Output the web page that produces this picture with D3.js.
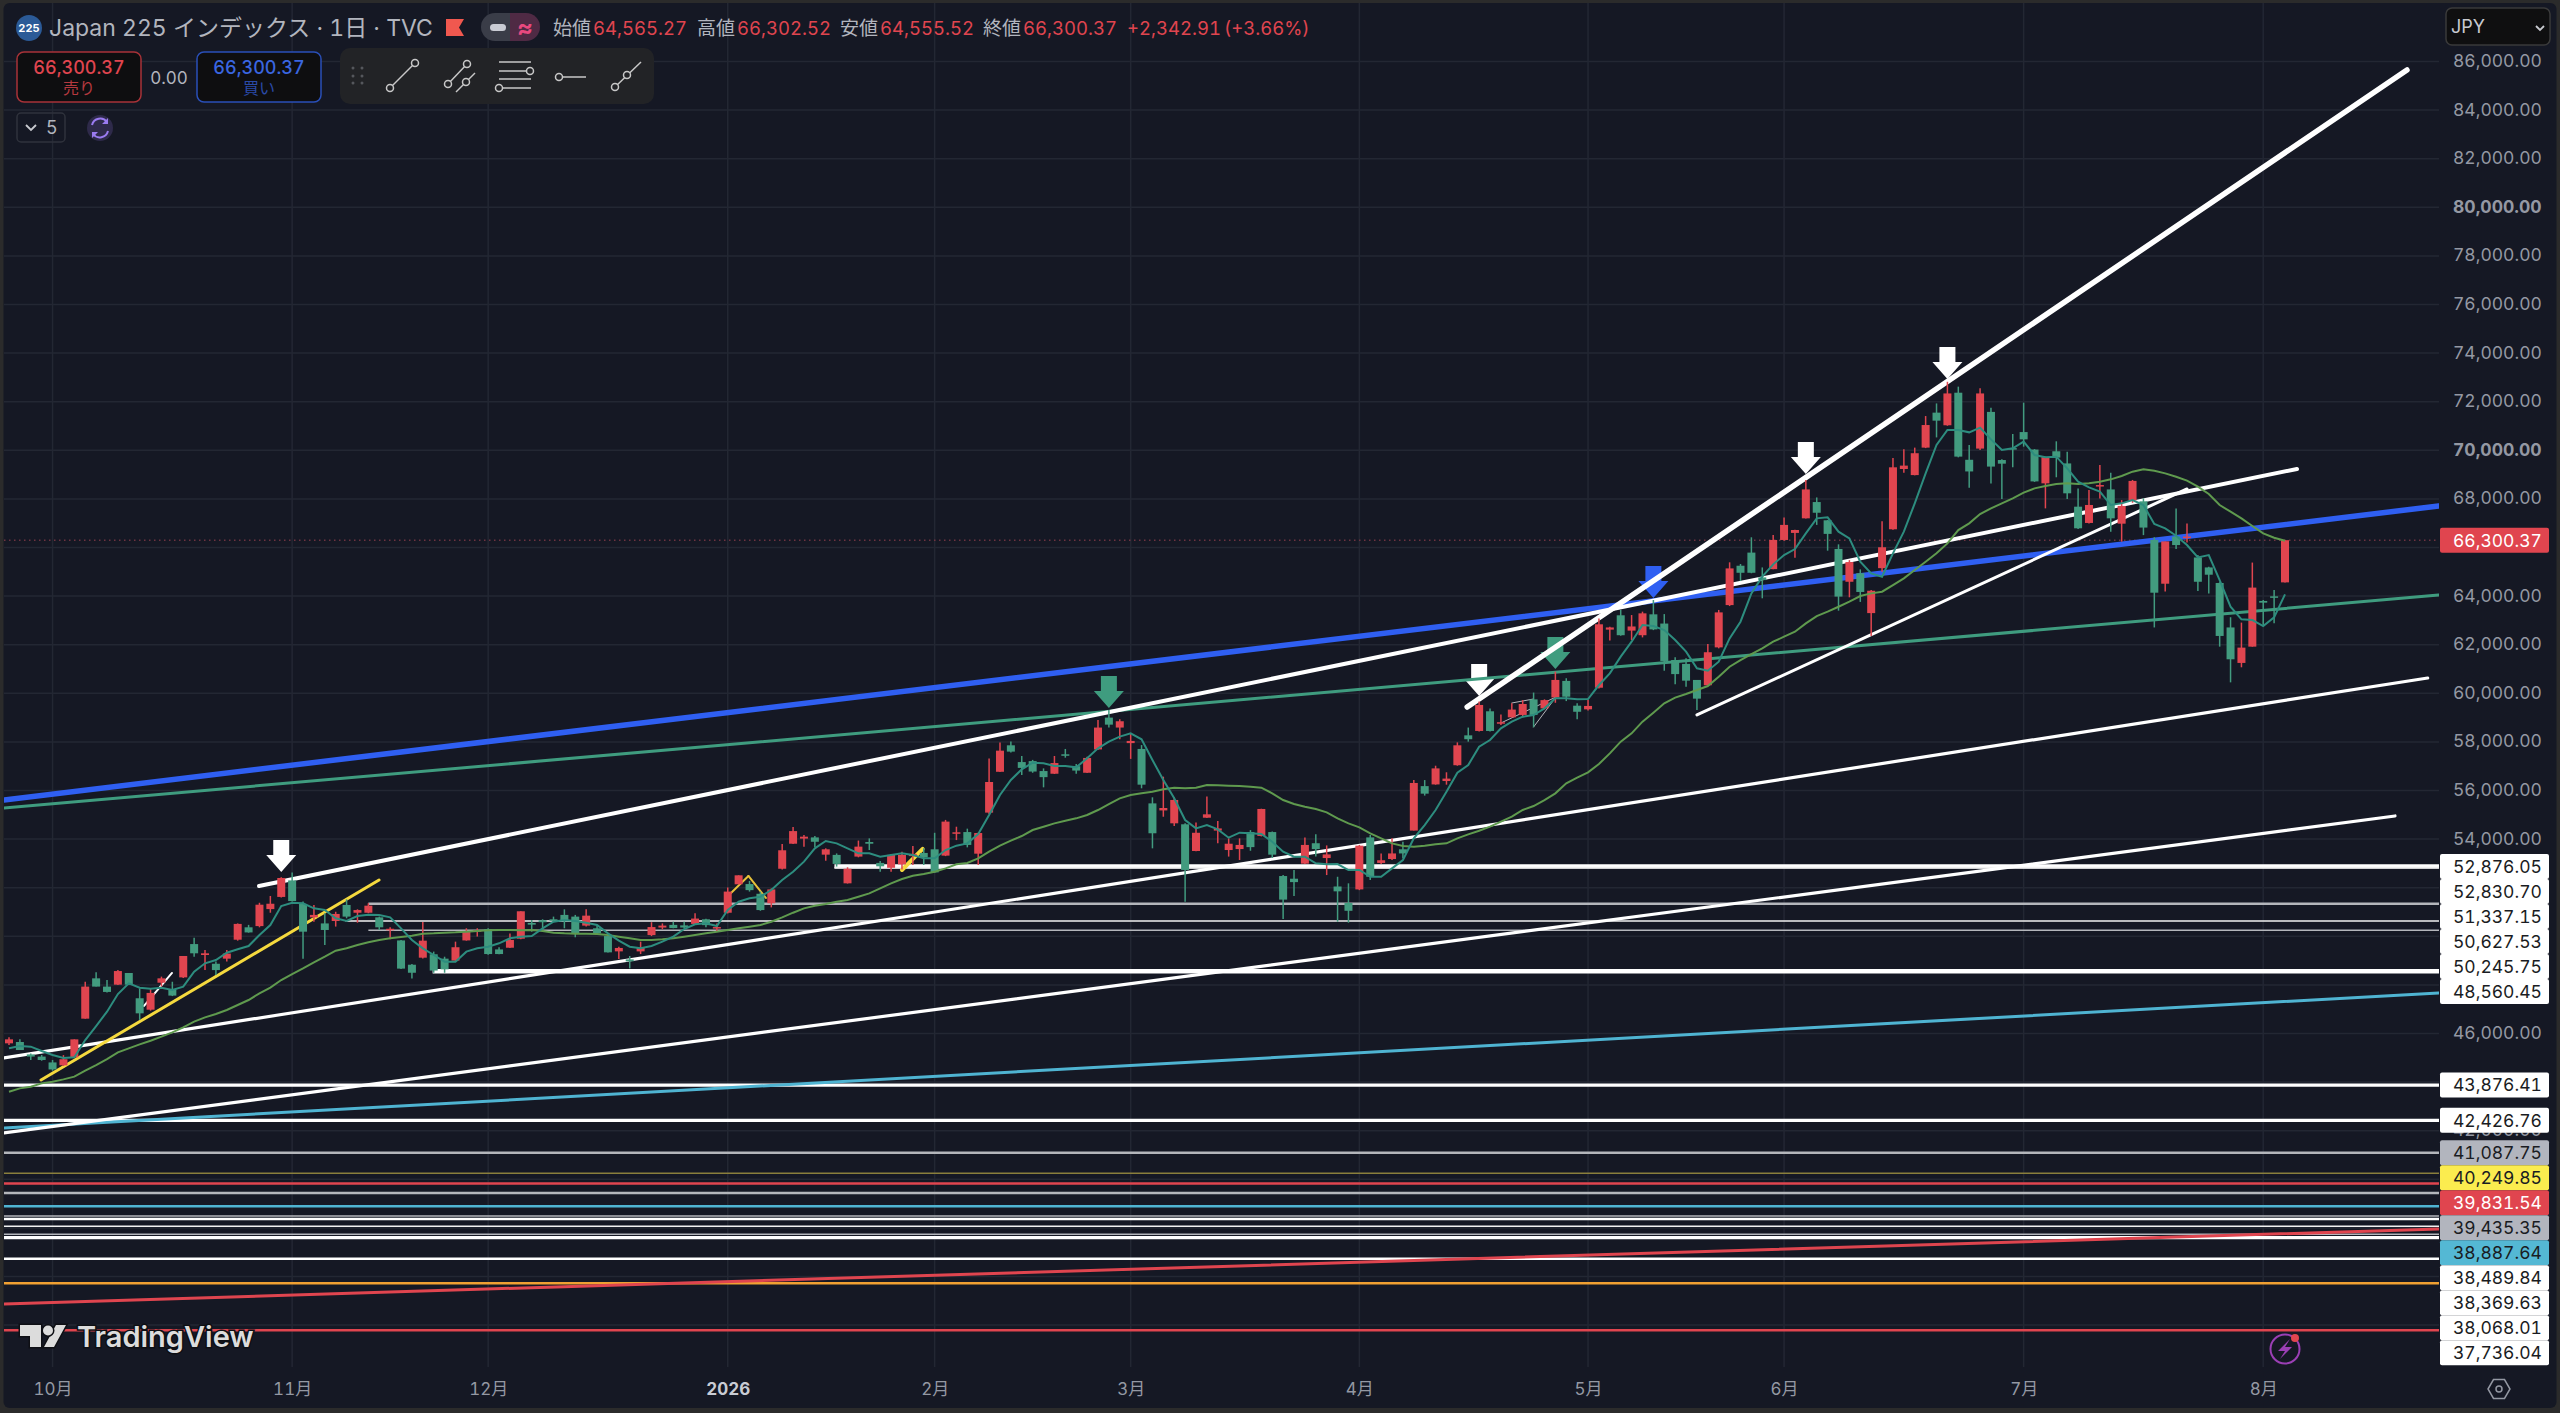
<!DOCTYPE html>
<html>
<head>
<meta charset="utf-8">
<title>Japan 225</title>
<script src="https://cdn.jsdelivr.net/npm/d3@7.9.0/dist/d3.min.js"></script>
<style>
    html, body { margin: 0; padding: 0; background: #2b2b2b; overflow: hidden; }
    svg { display: block; font-family: Inter, "Noto Sans CJK JP", sans-serif; font-variant-numeric: tabular-nums; }
</style>
</head>
<body>
<script>
// daily candles
var opens = [
    45595,45650,45140,45050,44810,44690,45020,46610,48270,47930,
    48010,48490,47450,46980,48090,47820,48310,49680,49230,48870,
    49080,49860,50370,50420,51120,51620,52300,51330,50780,50530,
    50630,51290,50970,50970,50780,50250,49830,48830,49120,49260,
    49080,49000,49830,50200,50300,49460,49530,49900,50550,50660,
    50700,50880,50810,50440,50330,50010,49380,49050,49380,50050,
    50360,50470,50450,50510,50700,50330,50970,52140,52150,51750,
    51360,52780,53810,54020,54070,53360,53350,52180,53280,53880,
    53020,52820,52960,53300,53430,53580,53320,54220,54290,53400,
    55090,56770,57860,57170,57210,56800,56690,57490,57000,56730,
    57690,59000,58590,57950,57710,55470,55180,54650,54610,53510,
    54880,54350,53550,53590,54290,54130,54290,52480,52370,52990,
    53830,53220,52050,51370,51930,54070,53020,53180,53580,54350,
    56180,56250,56390,57040,58270,58450,59260,58760,59010,59110,
    59750,59380,59830,60510,59490,59340,60230,62620,63210,62580,
    62390,63250,62870,61370,61210,60550,60330,61890,63630,65250,
    65790,64770,65110,66310,66600,67200,67870,67120,65940,64590,
    64940,63300,65150,66750,69230,68980,70110,71550,71030,72370,
    69610,70070,71580,69600,70090,70750,70030,68640,69960,69460,
    67680,67010,68530,68390,66980,67940,67900,66310,64510,66450,
    66420,65590,65180,64540,62710,61250,61920,63800,63990,64565.27
]
var highs = [
    45842,45760,45180,45115,44910,45110,45759,48130,48520,48200,
    48610,48490,47860,47860,48340,48130,49190,49940,49440,48960,
    49440,50530,50470,51380,51660,52430,52630,51430,51290,50950,
    51010,51520,51110,51360,50810,50370,49850,48860,50590,49370,
    49160,49780,50330,50330,50330,49550,50120,51030,50670,50700,
    50810,51110,50880,51110,50420,50050,49570,49190,49780,50580,
    50530,50600,50600,50950,50720,50530,52010,52510,52280,51840,
    51970,53800,54500,54170,54130,53620,53410,52840,53940,54030,
    53100,53390,53480,53720,53620,54260,54790,54510,54430,54260,
    57320,57980,58020,57420,57260,56910,57420,57710,57090,57390,
    58900,59310,58930,58350,57870,55720,56570,55720,54650,54680,
    55750,54740,54030,54030,54370,55250,54310,52520,52730,54070,
    54200,53740,52450,52180,53760,54170,53410,54030,53890,56430,
    56430,57020,56750,57980,58590,59660,59370,59130,59590,59720,
    60030,59750,60890,60620,59590,59720,63080,62740,63430,63220,
    63360,63840,63260,61480,61440,60550,62030,63430,65390,65320,
    66420,65180,66510,67230,66730,68780,68060,67130,66130,65480,
    65100,64250,67080,69680,70040,70110,71410,71930,72820,72620,
    70220,72550,71750,69630,70670,71960,70050,69740,70370,69940,
    68430,68370,69390,69080,67950,68780,68020,66420,66250,67610,
    66990,65690,65210,64570,63130,62910,65380,63840,64250,66302.52
]
var lows = [
    45526,45320,44910,44880,44470,44660,45018,46610,47930,47690,
    48000,48010,46560,46940,47930,47540,48280,49160,48610,48410,
    48960,49820,50150,50370,50970,51600,51430,49080,50600,49640,
    50400,50740,50560,50950,50260,49880,48650,48260,49090,48500,
    48500,48960,49820,49990,49240,49260,49520,49880,50190,50190,
    50600,50330,49960,50400,50050,49330,49070,48680,49270,50010,
    50290,50330,50330,50470,50370,50190,50940,52140,51840,51050,
    51190,52750,53800,53690,53660,53110,52870,52170,53250,53550,
    52660,52660,52750,52930,52930,52620,53300,53960,53660,52930,
    55030,56760,57560,56640,56730,56130,56680,57350,56690,56720,
    57680,58590,58110,57300,56090,53620,54920,54540,51420,53500,
    54870,53830,53280,53140,53520,54110,53220,50710,51660,52980,
    53280,52520,50600,50560,51900,52320,52980,53140,53210,54350,
    55790,56240,56240,57020,58010,58430,58430,58700,59000,59010,
    58600,59340,59610,59680,58930,59290,60200,62170,62370,62190,
    62300,62600,60930,60370,60270,59310,60310,61850,63590,64620,
    64940,63910,65100,66280,65580,67190,66930,65870,63400,63950,
    63760,62360,65000,66730,69080,68970,70090,70530,71010,69710,
    68460,70010,68630,68000,69300,70150,68700,67610,68890,68000,
    66760,66990,68020,66650,66240,67840,66510,62710,64190,65940,
    66210,64210,64110,61920,60450,61070,61920,62810,62880,64555.52
]
var closes = [
    45759,45320,45050,44910,44520,44940,45759,47930,47930,47710,
    48570,48010,46830,47670,48270,47560,49190,49300,49300,48610,
    49290,50510,50160,51300,51340,52400,51450,50190,50880,50260,
    50920,50810,51080,51260,50370,50310,48670,48500,49820,48590,
    48640,49550,50180,50250,49270,49270,49850,51030,50480,50580,
    50660,50620,50120,50850,50120,49340,49520,48970,49530,50380,
    50440,50340,50360,50730,50460,50380,51840,52510,51900,51080,
    51930,53540,54330,54100,53890,53580,52980,52780,53690,53810,
    52880,53350,53350,53390,53250,52630,54720,54280,53760,54250,
    56350,57640,57600,56930,56780,56550,57130,57450,56820,57340,
    58590,58710,58850,58040,56240,54240,55280,55610,52730,54260,
    55020,54440,53810,53760,53670,55240,53360,51510,52230,53760,
    53590,53370,51850,51050,53730,52450,53130,53410,53410,56310,
    55870,56910,56490,57860,58110,59520,58450,58810,59330,59560,
    59110,59720,60550,59860,59240,59480,62840,62710,62390,62750,
    63290,62630,61330,60790,60520,59780,61690,63330,65140,64960,
    64960,64660,66310,66930,66720,68390,67430,66560,63980,65400,
    64170,64220,66010,69300,69370,69880,71040,71220,72340,69740,
    69130,72340,69330,69450,70040,70450,68720,69720,69700,68230,
    66790,67750,68570,67200,67710,68740,66820,64140,66250,66100,
    66450,64590,64880,62360,61400,61880,64350,63730,63960,66300.37
]
var maFast = [
    45389,45485,45458,45279,45114,44991,45018,45732,46308,46898,
    47625,48064,47886,47845,47886,47790,47927,48544,48888,49025,
    49326,49464,49601,50054,50465,51247,51384,51357,51151,51083,
    50740,50630,50836,50890,50877,50781,50328,49848,49505,49230,
    48956,48956,49368,49505,49573,49711,49916,49985,50013,50328,
    50602,50671,50630,50561,50465,50122,49820,49573,49505,49601,
    49779,49985,50300,50493,50532,50423,51081,51424,51562,51630,
    51904,52316,52659,53071,53619,53921,53825,53619,53414,53414,
    53276,53345,53414,53345,53208,53208,53551,53729,53825,54209,
    54991,55815,56432,56871,57145,57118,57008,57008,56953,57324,
    57735,58010,58216,58353,58106,57255,56432,55677,54786,54443,
    54580,54401,54058,54264,54237,54209,53894,53482,53276,53276,
    53002,52961,52975,52728,52728,52453,52453,52796,53139,54030,
    54579,55197,55951,56733,57049,57803,58078,58558,58832,59038,
    59107,59381,59793,59793,59752,59765,60341,60821,61507,62124,
    62810,62769,62604,62193,61713,61027,60930,61300,62260,62946,
    64113,64798,65306,65690,65937,66582,67199,67240,66650,66376,
    65416,64935,64798,65759,66650,67817,69051,70218,70835,70835,
    70739,70931,70451,70012,70080,70355,69806,69710,69737,69257,
    68708,68475,68297,67748,67817,67954,67748,66966,66788,66486,
    66102,65594,65690,64661,63564,63043,63015,62768,63125,64071
]
var maSlow = [
    43605,43742,43811,43948,44017,44113,44223,44470,44703,44950,
    45224,45389,45553,45704,45869,46047,46253,46487,46665,46802,
    46967,47172,47378,47653,47886,48201,48448,48682,48929,49162,
    49409,49505,49642,49752,49848,49916,49971,50026,50109,50122,
    50150,50163,50191,50218,50246,50259,50259,50246,50259,50218,
    50150,50122,50109,50109,50095,50054,49985,49916,49848,49848,
    49875,49916,49985,50054,50121,50189,50258,50327,50395,50464,
    50601,50780,50971,51150,51260,51328,51424,51493,51630,51767,
    51973,52179,52357,52494,52563,52659,52796,52961,53016,53208,
    53482,53729,53935,54127,54374,54511,54648,54758,54854,54991,
    55197,55444,55677,55815,55883,55952,56048,56116,56089,56116,
    56226,56212,56199,56185,56158,56116,55883,55609,55444,55334,
    55238,55101,54854,54648,54484,54237,54031,53825,53715,53687,
    53729,53784,53825,54031,54195,54346,54511,54716,54922,55197,
    55361,55608,55883,56294,56527,56747,57090,57529,58009,58352,
    58832,59203,59587,59820,59971,60136,60300,60685,61094,61369,
    61615,61848,62123,62329,62535,62877,63179,63358,63563,63769,
    64002,64112,64181,64455,64729,65073,65416,65759,66170,66719,
    66993,67378,67611,67817,68022,68256,68434,68530,68612,68640,
    68612,68640,68708,68805,68942,69120,69216,69161,69051,68914,
    68750,68503,68201,67748,67474,67199,66884,66582,66404,66280
]

var lastPrice = 66300.37
var priceTicks = [86000,84000,82000,80000,78000,76000,74000,72000,70000,68000,66000,64000,62000,60000,58000,56000,54000,52000,50000,48000,46000,44000,42000,40000,38000,36000,34000]
// ticks the level labels do not cover
var shownTicks = [86000,84000,82000,80000,78000,76000,74000,72000,70000,68000,64000,62000,60000,58000,56000,54000,46000,42000]
var boldTicks = [80000, 70000]
var monthBars = [4,26,44,66,85,103,124,145,163,185,207]
var monthLabels = ['10月','11月','12月','2026','2月','3月','4月','5月','6月','7月','8月']

// drawn trend lines: bar index and price at both ends
var trendKinds =  ['blue','teal','cyan','red','whiteM','whiteM','whiteA','whiteD','whiteE','yellow','whiteS','amber','amber','yellowB','greyS','greyS','greyS']
var trendBar0 =   [-0.46,-0.46,-0.46,-0.46,-0.46,-0.46,22.96,133.9,155,2.94,12.4,66.3,67.9,82,138,137,140]
var trendPrice0 = [55610,55281,42113,34870,44993,41907,52071,59437,59108,44088,47133,51783,52483,52729,59601,58778,58614]
var trendBar1 =   [223.1,223.1,223.1,223.1,222.1,219.1,210.1,220.2,200,33.98,14.97,67.9,69.5,83.9,140,142.06,142.06]
var trendPrice1 = [67708,64046,47668,37957,60630,54952,69231,85650,68408,52318,48491,52483,51577,53594,59766,59848,59848]

// horizontal levels
var levelPrices = [52876.05,52830.70,51337.15,50627.53,50245.75,48560.45,43876.41,42426.76,41087.75,40249.85,39831.54,39435.35,38887.64,38489.84,38369.63,38068.01,37736.04,37599,36734,35722,33788]
var levelStart =  [75.8,75.8,33,30.9,33,38.9,-0.46,-0.46,-0.46,-0.46,-0.46,-0.46,-0.46,-0.46,-0.46,-0.46,-0.46,-0.46,-0.46,-0.46,-0.46]
var levelKinds =  ['whiteB','whiteF','greyL','whiteF','greyF','whiteB','whiteM','whiteM','greyL','olive','redL','greyL','cyanL','greyF','whiteL','whiteF','greyF','whiteM','whiteL','orange','redL']
var labelCount = 17
var labelKinds =  ['w','w','w','w','w','w','w','w','g','y','r','g','c','w','w','w','w']

// arrow marks: bar index and price at the tip
var arrowBars =   [25,101,135,142,151,165,178]
var arrowPrices = [52647,59396,59890,61000,63922,69025,72934]
var arrowKinds =  ['white','green','white','green','blue','white','white']

var W = 2560, H = 1413
var PANE = { x0: 4, x1: 2439, y0: 3, y1: 1367 }
var UP = '#e0454f', DOWN = '#429b7f', BG = '#151824', GRID = '#232733', AXIS_TEXT = '#9498a3', LIGHT_TEXT = '#b2b5be'

var LINE_STYLE = {
    blue: { c: '#2f5ff2', w: 5.5 }, teal: { c: '#3f9c7f', w: 3 }, cyan: { c: '#4fb4d2', w: 3 },
    red: { c: '#e0454f', w: 3 }, redL: { c: '#e0454f', w: 2.5 }, cyanL: { c: '#4fb4d2', w: 2.5 },
    whiteA: { c: '#ffffff', w: 4 }, whiteD: { c: '#ffffff', w: 5.5 }, whiteE: { c: '#ffffff', w: 3 },
    whiteM: { c: '#ffffff', w: 3.2 }, whiteS: { c: '#ffffff', w: 2 }, whiteB: { c: '#ffffff', w: 4.5 },
    whiteL: { c: '#ffffff', w: 2.5 }, whiteF: { c: '#f2f2f2', w: 1.5 }, greyL: { c: '#b4b6bb', w: 2.5 },
    greyF: { c: '#b4b6bb', w: 1.5 }, greyS: { c: '#b4b6bb', w: 1 }, olive: { c: '#8a7f3c', w: 1.5 },
    orange: { c: '#f0a032', w: 2.5 }, yellow: { c: '#f5d93e', w: 3 }, yellowB: { c: '#f5d93e', w: 4 },
    amber: { c: '#e8c23a', w: 2 }
}
var LABEL_STYLE = {
    w: { bg: '#ffffff', fg: '#1a1c22' }, g: { bg: '#b2b5be', fg: '#1a1c22' }, y: { bg: '#fbec4f', fg: '#1a1c22' },
    r: { bg: '#e0454f', fg: '#ffffff' }, c: { bg: '#54b8d4', fg: '#1a1c22' }
}
var ARROW_FILL = { white: '#ffffff', green: '#3f9c7f', blue: '#2f5ff2' }

var x = d3.scaleLinear().domain([0, 209]).range([9, 2285])
var y = d3.scaleLinear().domain([86000, 34000]).range([61.5, 1325.1])
var fmt = d3.format(',.2f')
var bars = d3.range(opens.length)

var svg = d3.select('body').append('svg').attr('width', W).attr('height', H)

svg.append('rect').attr('x', 3.5).attr('y', 3).attr('width', W - 7).attr('height', 1405).attr('rx', 6).attr('fill', BG)
svg.append('clipPath').attr('id', 'pane').append('rect')
    .attr('x', PANE.x0).attr('y', PANE.y0).attr('width', PANE.x1 - PANE.x0).attr('height', PANE.y1 - PANE.y0)

var chart = svg.append('g').attr('clip-path', 'url(#pane)')

// grid
chart.append('g').selectAll('line').data(priceTicks).enter().append('line')
    .attr('x1', PANE.x0).attr('x2', PANE.x1)
    .attr('y1', function (d) { return y(d) }).attr('y2', function (d) { return y(d) })
    .attr('stroke', GRID).attr('stroke-width', 1.5)
chart.append('g').selectAll('line').data(monthBars).enter().append('line')
    .attr('x1', function (d) { return x(d) }).attr('x2', function (d) { return x(d) })
    .attr('y1', PANE.y0).attr('y2', PANE.y1)
    .attr('stroke', GRID).attr('stroke-width', 1.5)

// last price dotted line
chart.append('line')
    .attr('x1', PANE.x0).attr('x2', PANE.x1).attr('y1', y(lastPrice)).attr('y2', y(lastPrice))
    .attr('stroke', '#6e3340').attr('stroke-width', 1.5).attr('stroke-dasharray', '1.5 3.5')

// arrows go under the lines
chart.append('g').selectAll('path').data(arrowBars).enter().append('path')
    .attr('d', 'M0,0 L-15,-17 L-8,-17 L-8,-32 L8,-32 L8,-17 L15,-17 Z')
    .attr('fill', function (d, i) { return ARROW_FILL[arrowKinds[i]] })
    .attr('transform', function (d, i) { return 'translate(' + x(d) + ',' + y(arrowPrices[i]) + ')' })

// horizontal levels
chart.append('g').selectAll('line').data(levelPrices).enter().append('line')
    .attr('x1', function (d, i) { return x(levelStart[i]) }).attr('x2', PANE.x1)
    .attr('y1', function (d) { return y(d) }).attr('y2', function (d) { return y(d) })
    .attr('stroke', function (d, i) { return LINE_STYLE[levelKinds[i]].c })
    .attr('stroke-width', function (d, i) { return LINE_STYLE[levelKinds[i]].w })

// trend lines
chart.append('g').selectAll('line').data(trendKinds).enter().append('line')
    .attr('x1', function (d, i) { return x(trendBar0[i]) }).attr('y1', function (d, i) { return y(trendPrice0[i]) })
    .attr('x2', function (d, i) { return x(trendBar1[i]) }).attr('y2', function (d, i) { return y(trendPrice1[i]) })
    .attr('stroke', function (d) { return LINE_STYLE[d].c })
    .attr('stroke-width', function (d) { return LINE_STYLE[d].w })
    .attr('stroke-linecap', 'round')

// candles
var candle = chart.append('g').selectAll('g').data(bars).enter().append('g')
candle.append('line')
    .attr('x1', function (i) { return x(i) }).attr('x2', function (i) { return x(i) })
    .attr('y1', function (i) { return y(highs[i]) }).attr('y2', function (i) { return y(lows[i]) })
    .attr('stroke', function (i) { return closes[i] >= opens[i] ? UP : DOWN })
    .attr('stroke-width', 1.5)
candle.append('rect')
    .attr('x', function (i) { return x(i) - 4 }).attr('width', 8)
    .attr('y', function (i) { return y(Math.max(opens[i], closes[i])) })
    .attr('height', function (i) { return Math.max(y(Math.min(opens[i], closes[i])) - y(Math.max(opens[i], closes[i])), 1.5) })
    .attr('fill', function (i) { return closes[i] >= opens[i] ? UP : DOWN })

// moving averages
var maLine = function (values) {
    return d3.line().x(function (d, i) { return x(i) }).y(function (d) { return y(d) })(values)
}
chart.append('path').attr('d', maLine(maSlow)).attr('fill', 'none').attr('stroke', '#5f9a4e').attr('stroke-width', 2)
chart.append('path').attr('d', maLine(maFast)).attr('fill', 'none').attr('stroke', '#2d8d7f').attr('stroke-width', 2)

// price axis
var yAxis = svg.append('g').attr('transform', 'translate(2453,0)')
    .call(d3.axisRight(y).tickValues(shownTicks).tickSize(0).tickPadding(0).tickFormat(fmt))
yAxis.select('.domain').remove()
yAxis.selectAll('text')
    .attr('font-family', 'Inter, sans-serif').attr('font-size', 17.5).attr('dy', '0.28em')
    .attr('fill', AXIS_TEXT)
    .attr('font-weight', function (d) { return boldTicks.indexOf(d) >= 0 ? 700 : 400 })

// time axis
var xAxis = svg.append('g').attr('transform', 'translate(0,1389)')
    .call(d3.axisBottom(x).tickValues(monthBars).tickSize(0).tickPadding(0).tickFormat(function (d, i) { return monthLabels[i] }))
xAxis.select('.domain').remove()
xAxis.selectAll('text')
    .attr('font-family', 'Inter, "Noto Sans CJK JP", sans-serif').attr('font-size', 17).attr('dy', '0.35em').attr('y', 0)
    .attr('fill', function (d, i) { return monthLabels[i] === '2026' ? '#c9ccd4' : AXIS_TEXT })
    .attr('font-weight', function (d, i) { return monthLabels[i] === '2026' ? 700 : 400 })

// level labels, pushed down where they would collide
var labelY = []
levelPrices.slice(0, labelCount).forEach(function (p, i) {
    var want = y(p)
    labelY.push(i > 0 ? Math.max(want, labelY[i - 1] + 25) : want)
})
var labels = svg.append('g').selectAll('g').data(labelY).enter().append('g')
    .attr('transform', function (d) { return 'translate(2440,' + d + ')' })
labels.append('rect').attr('x', 0).attr('y', -12.5).attr('width', 109).attr('height', 25).attr('rx', 2)
    .attr('fill', function (d, i) { return LABEL_STYLE[labelKinds[i]].bg })
labels.append('text').attr('x', 13).attr('dy', '0.36em').attr('font-size', 17.5)
    .attr('fill', function (d, i) { return LABEL_STYLE[labelKinds[i]].fg })
    .text(function (d, i) { return fmt(levelPrices[i]) })

var lastTag = svg.append('g').attr('transform', 'translate(2440,' + y(lastPrice) + ')')
lastTag.append('rect').attr('y', -12.5).attr('width', 109).attr('height', 25).attr('rx', 2).attr('fill', UP)
lastTag.append('text').attr('x', 13).attr('dy', '0.36em').attr('font-size', 17.5).attr('fill', '#fff').text(fmt(lastPrice))

// header
var head = svg.append('g')
head.append('circle').attr('cx', 29).attr('cy', 28).attr('r', 13).attr('fill', '#2b5a97')
head.append('text').attr('x', 29).attr('y', 28).attr('dy', '0.35em').attr('text-anchor', 'middle')
    .attr('font-size', 11).attr('font-weight', 700).attr('fill', '#fff').text('225')
head.append('text').attr('x', 49).attr('y', 28).attr('dy', '0.36em').attr('font-size', 23).attr('fill', LIGHT_TEXT)
    .text('Japan 225 インデックス · 1日 · TVC')
head.append('path').attr('d', 'M446,19 H464 L459,27.5 L464,36 H446 Z').attr('fill', '#f0584f')
head.append('path').attr('d', 'M495,13 A14,14 0 0 0 495,41 H510 V13 Z').attr('fill', '#3a3d48')
head.append('path').attr('d', 'M510,13 H526 A14,14 0 0 1 526,41 H510 Z').attr('fill', '#4f2a44')
head.append('rect').attr('x', 490).attr('y', 24).attr('width', 16).attr('height', 7).attr('rx', 3.5).attr('fill', '#c9ccd4')
head.append('text').attr('x', 525).attr('y', 27).attr('dy', '0.36em').attr('text-anchor', 'middle')
    .attr('font-size', 24).attr('font-weight', 700).attr('fill', '#e8497f').text('≈')

var ohlcLabelX = [553, 697, 840, 983]
var ohlcLabels = ['始値', '高値', '安値', '終値']
var ohlcValues = [opens[209], highs[209], lows[209], closes[209]]
ohlcLabels.forEach(function (t, i) {
    head.append('text').attr('x', ohlcLabelX[i]).attr('y', 28).attr('dy', '0.36em').attr('font-size', 19).attr('fill', LIGHT_TEXT).text(t)
    head.append('text').attr('x', ohlcLabelX[i] + 40).attr('y', 28).attr('dy', '0.36em').attr('font-size', 18.5).attr('fill', UP).text(fmt(ohlcValues[i]))
})
head.append('text').attr('x', 1127).attr('y', 28).attr('dy', '0.36em').attr('font-size', 18.5).attr('fill', UP).text('+2,342.91')
head.append('text').attr('x', 1224).attr('y', 28).attr('dy', '0.36em').attr('font-size', 18.5).attr('fill', UP).text('(+3.66%)')

// sell / buy boxes
function tradeBox(x0, stroke, main, dim, word) {
    head.append('rect').attr('x', x0).attr('y', 52).attr('width', 124).attr('height', 50).attr('rx', 7)
        .attr('fill', '#0e0e10').attr('stroke', stroke).attr('stroke-width', 1.5)
    head.append('text').attr('x', x0 + 62).attr('y', 68).attr('dy', '0.36em').attr('text-anchor', 'middle')
        .attr('font-size', 18).attr('font-weight', 500).attr('fill', main).text(fmt(lastPrice))
    head.append('text').attr('x', x0 + 62).attr('y', 88).attr('dy', '0.36em').attr('text-anchor', 'middle')
        .attr('font-size', 16).attr('fill', dim).text(word)
}
tradeBox(17, '#a83238', UP, '#b5393f', '売り')
tradeBox(197, '#2a4fb8', '#3a66e0', '#2a4aa8', '買い')
head.append('text').attr('x', 169).attr('y', 78).attr('dy', '0.36em').attr('text-anchor', 'middle')
    .attr('font-size', 17).attr('fill', LIGHT_TEXT).text('0.00')

// drawing toolbar
var tb = svg.append('g')
tb.append('rect').attr('x', 340).attr('y', 48).attr('width', 314).attr('height', 56).attr('rx', 10).attr('fill', '#222326')
;[68, 76, 83].forEach(function (dy) {
    ;[353, 362].forEach(function (dx) {
        tb.append('circle').attr('cx', dx).attr('cy', dy).attr('r', 1.5).attr('fill', '#55575c')
    })
})
function toolLine(x1, y1, x2, y2) {
    tb.append('line').attr('x1', x1).attr('y1', y1).attr('x2', x2).attr('y2', y2).attr('stroke', '#c8c8c8').attr('stroke-width', 1.5)
}
function toolDot(cx, cy) {
    tb.append('circle').attr('cx', cx).attr('cy', cy).attr('r', 3.5).attr('fill', '#222326').attr('stroke', '#c8c8c8').attr('stroke-width', 1.5)
}
toolLine(390, 88, 415, 63); toolDot(390, 88); toolDot(415, 63)
toolLine(448, 84, 467, 64); toolDot(448, 84); toolDot(467, 64)
toolLine(456, 92, 475, 73); toolDot(466, 82)
toolLine(499, 62, 531, 62); toolLine(499, 71, 527, 71); toolDot(530, 71)
toolLine(499, 79, 531, 79); toolLine(502, 88, 531, 88); toolDot(499, 88)
toolLine(559, 77, 586, 77); toolDot(559, 77)
toolLine(615, 87, 641, 62); toolDot(615, 87); toolDot(627, 75)

// legend row
var lg = svg.append('g')
lg.append('rect').attr('x', 17).attr('y', 113).attr('width', 48).attr('height', 29).attr('rx', 4)
    .attr('fill', 'none').attr('stroke', '#2f323c').attr('stroke-width', 1.5)
lg.append('path').attr('d', 'M26,125 L31,130 L36,125').attr('fill', 'none').attr('stroke', '#c8cad0').attr('stroke-width', 1.8)
lg.append('text').attr('x', 46).attr('y', 128).attr('dy', '0.36em').attr('font-size', 18).attr('fill', LIGHT_TEXT).text('5')
lg.append('circle').attr('cx', 100).attr('cy', 128).attr('r', 13).attr('fill', '#2e2a4a')
lg.append('path').attr('d', 'M92,125 A8.5,8.5 0 0 1 107,122 M108,131 A8.5,8.5 0 0 1 93,134')
    .attr('fill', 'none').attr('stroke', '#9a7bf0').attr('stroke-width', 2)
lg.append('path').attr('d', 'M108,118 V124 H102 Z M92,138 V132 H98 Z').attr('fill', '#9a7bf0')

// currency box
var cur = svg.append('g')
cur.append('rect').attr('x', 2446).attr('y', 8).attr('width', 104).attr('height', 37).attr('rx', 6)
    .attr('fill', '#0f0f10').attr('stroke', '#3a3a3a').attr('stroke-width', 1.5)
cur.append('text').attr('x', 2451).attr('y', 27).attr('dy', '0.36em').attr('font-size', 18).attr('fill', '#c8cad0').text('JPY')
cur.append('path').attr('d', 'M2536,26 L2540,30 L2544,26').attr('fill', 'none').attr('stroke', '#c8cad0').attr('stroke-width', 1.8)

// bolt icon
var bolt = svg.append('g')
bolt.append('circle').attr('cx', 2285).attr('cy', 1349).attr('r', 14.5).attr('fill', 'none').attr('stroke', '#9b3fb5').attr('stroke-width', 2)
bolt.append('path').attr('d', 'M2290,1339 L2278,1351 H2285 L2280,1359 L2292,1347 H2285 Z').attr('fill', '#9b3fb5')
bolt.append('circle').attr('cx', 2295).attr('cy', 1338).attr('r', 4).attr('fill', UP)

// settings icon
var gear = svg.append('g').attr('transform', 'translate(2499,1389)')
gear.append('path').attr('d', 'M-11,0 L-5.5,-9.5 H5.5 L11,0 L5.5,9.5 H-5.5 Z').attr('fill', 'none').attr('stroke', AXIS_TEXT).attr('stroke-width', 1.5)
gear.append('circle').attr('r', 3).attr('fill', 'none').attr('stroke', AXIS_TEXT).attr('stroke-width', 1.5)

// watermark
var wm = svg.append('g')
wm.append('path').attr('d', 'M20,1325 H41 V1347 H30 V1336 H20 Z M66,1325 L54,1347 H44 L56,1325 Z')
    .attr('fill', '#dcdcdc').attr('stroke', '#0e0f14').attr('stroke-width', 3).attr('paint-order', 'stroke')
wm.append('circle').attr('cx', 48).attr('cy', 1330.5).attr('r', 5)
    .attr('fill', '#dcdcdc').attr('stroke', '#0e0f14').attr('stroke-width', 3).attr('paint-order', 'stroke')
wm.append('text').attr('x', 77).attr('y', 1337).attr('dy', '0.36em').attr('font-size', 29).attr('font-weight', 600)
    .attr('fill', '#dcdcdc').attr('stroke', '#0e0f14').attr('stroke-width', 3).attr('paint-order', 'stroke')
    .text('TradingView')
</script>
</body>
</html>
